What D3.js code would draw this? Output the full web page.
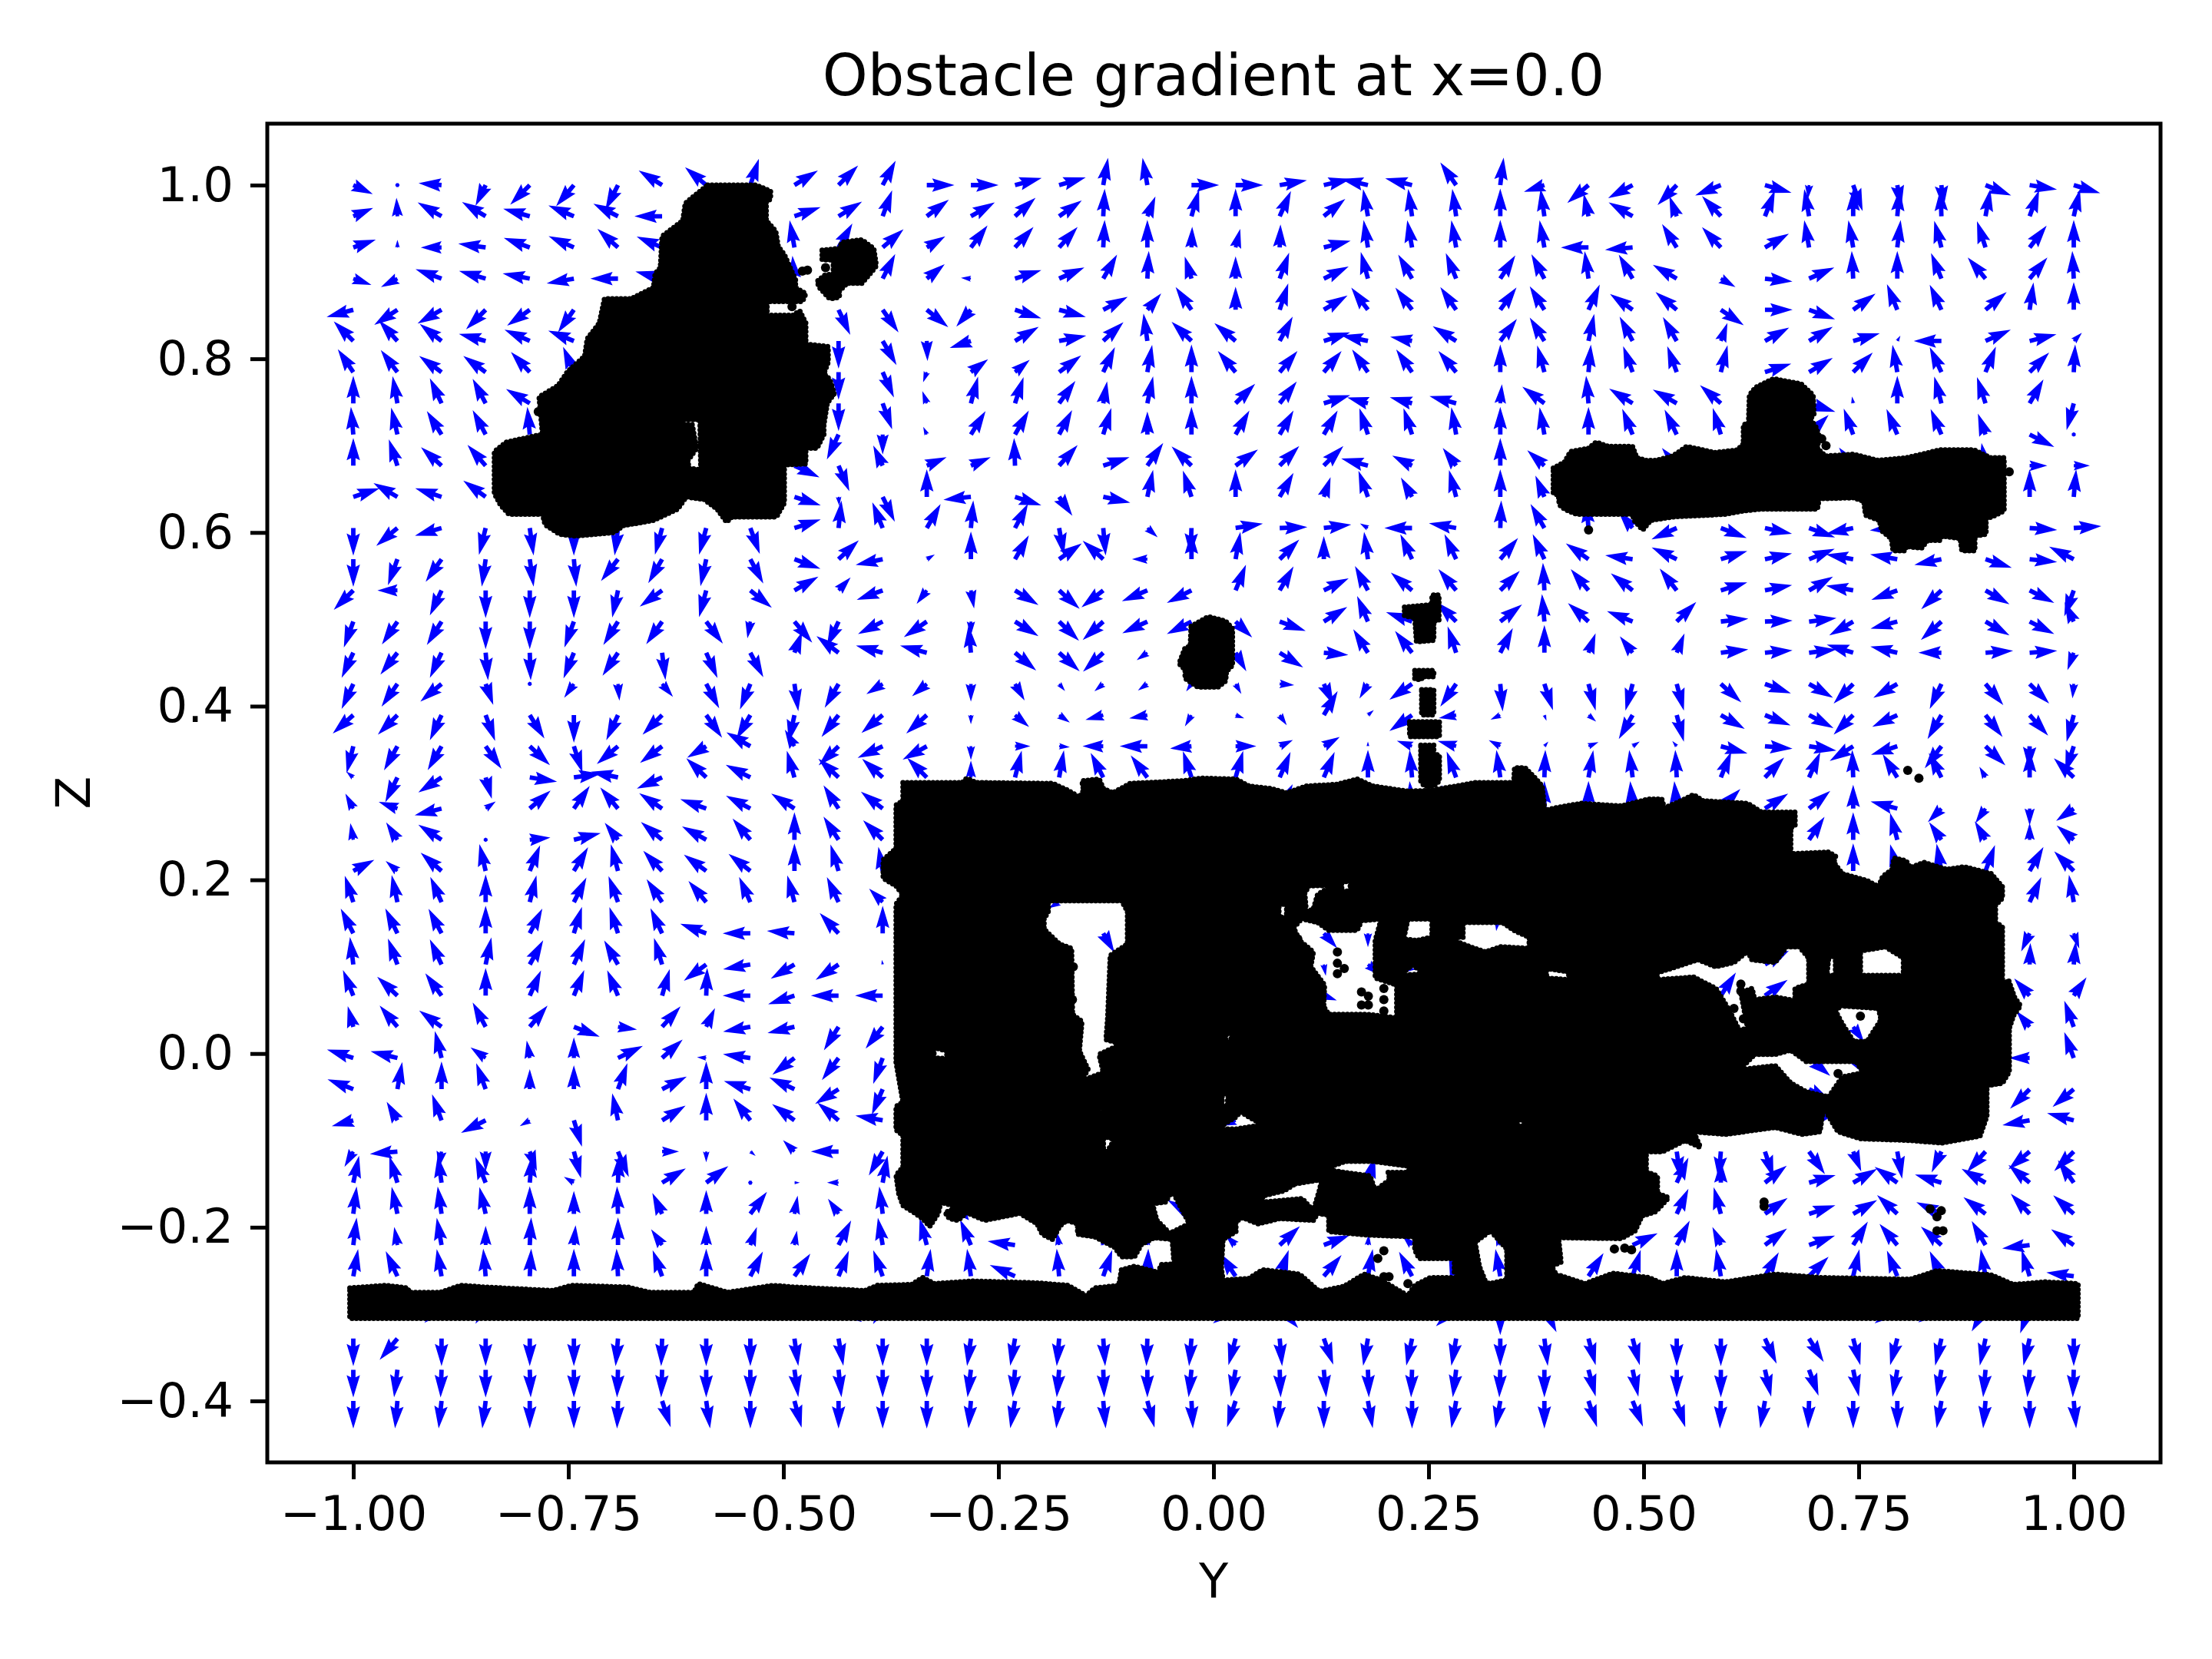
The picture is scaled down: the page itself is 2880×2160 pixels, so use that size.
<!DOCTYPE html>
<html><head><meta charset="utf-8">
<style>html,body{margin:0;padding:0;background:#fff}text{font-family:"DejaVu Sans",sans-serif;fill:#000}</style>
<script src="https://cdn.jsdelivr.net/npm/d3@7"></script></head>
<body><svg id="c" width="2880" height="2160"></svg>
<script>
const _ = null;
const title = "Obstacle gradient at x=0.0", xLabel = "Y", yLabel = "Z";
const yTicks = [-1,-0.75,-0.5,-0.25,0,0.25,0.5,0.75,1];
const zTicks = [-0.4,-0.2,0,0.2,0.4,0.6,0.8,1.0];
// grid: 40 x 40, each entry = direction in degrees, or [direction, magnitude]; plain entries have magnitude 36; null is hidden by the obstacle
const row00=[[-25,28],[0,3],[175,30],[-116,30],-135,-130,-117,148,140,72,32,45,62,0,0,15,16,80,100,0,0,10,13,167,166,125,83,[198,28],220,208,226,202,-16,[-95,18],-70,[-80,30],[-85,30],-22,-9,-17];
const row01=[[23,28],[93,24],150,149,164,157,153,180,_,_,19,32,70,37,30,42,35,87,[68,28],74,90,66,39,100,98,98,90,98,[102,30],150,[110,28],133,69,100,90,85,92,80,70,77];
const row02=[[19,31],[90,10],[180,27],172,160,156,138,157,_,_,100,60,41,[31,28],53,48,48,87,90,[88,27],[76,25],[88,30],14,99,100,100,90,100,180,185,122,133,30,100,100,83,105,108,52,90];
const row03=[[-19,25],[207,24],160,164,169,190,180,165,_,_,[95,30],_,63,[39,30],[175,13],18,24,60,87,[107,30],[90,29],70,26,105,120,112,57,118,98,120,150,[-30,22],-6,24,93,90,112,130,50,93];
const row04=[195,213,210,225,215,235,_,_,_,_,_,-65,-55,-39,[229,29],-18,-15,28,[50,28],125,[90,30],72,31,127,127,125,54,122,66,145,140,-34,0,-20,36,112,115,40,82,90];
const row05=[135,132,142,165,156,158,_,_,_,_,_,-90,-60,[-88,26],[198,29],31,11,43,98,136,140,62,18,168,[169,29],148,53,122,78,118,120,[70,25],29,31,16,[60,8],180,24,14,[45,15]];
const row06=[124,127,144,144,133,113,_,_,_,_,_,-90,-66,[-110,14],[37,28],[40,25],37,65,80,90,130,50,50,125,125,130,90,105,85,110,110,76,18,31,45,100,115,68,45,87];
const row07=[90,100,115,118,149,_,_,_,_,_,_,-90,-70,[110,17],75,72,54,[80,29],78,90,45,52,17,[164,28],[165,30],165,[85,25],143,95,148,150,139,_,-18,[100,9],90,105,108,60,-105];
const row08=[95,103,122,118,95,_,_,_,_,_,_,245,[-90,26],[115,11],58,60,62,73,[90,30],90,60,60,60,108,108,100,90,100,90,112,116,107,_,45,110,113,113,[110,29],-27,[90,5]];
const row09=[90,108,138,131,_,_,_,_,_,_,-25,-67,[115,29],[23,28],[23,28],92,48,18,55,136,36,45,45,165,[153,29],[127,29],90,[138,30],_,_,[130,30],_,_,_,[128,30],_,_,[100,30],[0,23],[0,21]];
const row10=[18,150,162,144,_,_,_,_,_,_,-18,[-85,12],-64,90,186,-18,[-55,30],-12,78,108,90,60,[71,27],110,[120,29],105,90,[113,30],_,_,_,_,_,_,_,_,_,_,90,85];
const row11=[-90,220,196,-104,-82,-90,-97,-105,-105,-70,18,84,112,60,85,62,-80,-85,[-42,18],-92,9,2,7,[150,12],180,170,88,120,95,[130,29],204,-21,-12,-20,192,185,_,_,-4,4];
const row12=[-90,250,235,-98,-82,-85,232,240,-102,-62,-20,43,192,[30,12],90,60,35,138,[180,20],90,80,45,[90,30],98,115,115,50,115,145,172,155,17,12,22,170,170,192,-18,-6,153];
const row13=[225,[180,26],245,-90,-90,-90,-102,216,-105,-39,30,[47,23],200,[233,22],[-80,24],-32,-42,218,203,207,68,60,26,118,140,130,45,93,130,142,128,17,11,30,170,200,223,-30,-27,250];
const row14=[250,236,238,-90,-90,250,238,235,-53,[260,22],-50,245,207,214,[-90,18],-32,-44,222,205,207,[-44,30],-20,32,113,160,135,38,95,138,158,45,6,2,7,210,195,222,-30,-27,[115,28]];
const row15=[245,232,245,-85,-88,248,236,-83,-66,-62,[70,29],143,165,165,95,-40,-42,223,[215,17],_,[-60,28],-32,[-5,32],122,128,108,63,90,[70,27],[128,27],[68,27],7,5,7,163,167,[180,30],4,4,[250,24]];
const row16=[245,235,220,[-70,29],[-80,4],[235,22],[-85,22],[-50,22],-62,248,-82,240,[212,25],[220,25],[-90,23],[-60,25],[-50,12],[220,15],[215,15],[235,12],[-60,15],[-5,19],[-65,30],[240,22],215,235,-85,-72,-75,255,-75,-42,-20,-30,225,210,245,-50,-45,[-95,19]];
const row17=[222,225,245,-70,-58,-90,245,225,-55,240,258,232,220,222,[-90,12],[-40,24],[-35,17],[195,24],[190,24],[240,17],[-20,12],[-55,16],60,[40,10],215,[190,23],[205,14],[-70,8],[-40,13],240,-75,-30,-22,-28,225,205,240,-52,-48,255];
const row18=[256,241,240,-55,-43,-72,220,217,[211,29],150,[120,25],224,205,209,[-90,18],[0,20],[-5,14],[180,27],180,[186,28],[0,27],[25,19],[30,24],[90,6],[160,21],[164,25],[152,17],[50,8],[22,14],[33,11],[130,9],-15,-5,-9,212,198,233,-44,[-92,30],252];
const row19=[[140,12],244,213,[-74,29],-9,8,168,204,136,153,106,137,138,135,[90,22],76,80,117,127,108,74,67,67,90,95,110,98,88,80,97,93,68,46,66,92,122,117,[120,16],90,136];
const row20=[[118,22],[160,26],194,[35,16],41,55,130,146,160,152,147,123,142,_,_,_,[95,34],_,_,_,_,62,68,_,95,122,92,90,90,95,95,45,33,40,[90,31],165,[225,25],[235,23],[-90,22],[215,28]];
const row21=[[100,22],[123,27],147,[90,5],[6,27],14,[128,28],140,151,130,90,123,135,_,_,_,_,_,_,_,_,_,_,_,_,_,_,_,_,_,_,_,_,56,90,105,[125,28],[120,28],[90,22],[140,29]];
const row22=[[28,31],[140,20],139,103,68,59,105,133,144,142,90,107,[100,32],_,_,_,_,_,_,_,_,_,_,_,_,_,_,_,_,_,_,_,_,_,90,105,100,70,60,135];
const row23=[108,102,114,90,76,63,110,124,130,114,105,115,[135,25],_,_,_,[210,16],_,_,_,_,_,_,_,_,_,[262,38],_,_,_,_,_,_,_,_,_,_,_,65,100];
const row24=[117,116,118,90,63,73,108,115,160,180,175,133,90,_,_,_,_,[-60,29],_,_,_,_,[-48,26],[-90,18],_,_,_,_,_,_,_,_,_,_,_,_,_,_,[245,26],[-70,21]];
const row25=[97,110,115,78,61,66,120,107,216,190,211,214,[100,6],_,_,_,_,_,_,_,_,_,[-80,15],[-40,22],[210,26],_,_,_,_,_,_,_,30,25,[60,18],_,_,_,[88,28],[85,30]];
const row26=[112,137,126,90,66,68,113,74,88,180,198,180,180,_,_,_,_,_,_,_,_,_,[-20,18],_,_,_,_,_,_,_,_,57,35,_,_,_,_,_,[132,30],[55,29]];
const row27=[[105,28],130,144,118,50,-21,[-8,25],48,[65,27],190,193,238,232,_,_,_,_,_,_,_,[220,22],_,_,_,_,_,_,_,_,_,_,_,_,_,[-55,25],_,_,_,[130,27],110];
const row28=[162,166,104,[145,24],[100,23],[90,27],26,42,[175,12],172,217,233,250,_,_,_,_,_,_,_,_,_,_,_,_,_,_,_,_,_,_,_,_,-40,[-55,26],_,_,_,[180,27],110];
const row29=[159,80,90,110,[90,26],[90,31],70,27,90,163,155,212,247,_,_,_,_,_,_,_,_,_,_,_,_,_,_,_,_,_,_,_,_,[-28,32],[-70,14],_,_,_,225,220];
const row30=[[195,29],[120,28],110,207,[210,15],-73,102,32,90,128,144,140,170,_,_,_,_,_,_,_,[200,21],_,_,_,_,_,_,_,_,_,_,_,_,13,_,_,_,_,190,165];
const row31=[[240,23],185,[-100,22],[-90,26],[-70,27],-75,-67,[0,22],[-90,14],[-40,9],[135,21],180,240,_,_,_,_,_,_,_,_,_,_,_,_,_,_,_,_,_,-82,-95,-72,-55,[-68,28],-80,[245,30],228,220,225];
const row32=[78,107,98,112,85,[150,15],88,31,37,[0,3],[0,7],[180,15],80,_,_,_,_,_,_,_,_,_,_,75,_,_,_,_,_,[20,30],65,[90,29],38,16,30,145,163,150,140,125];
const row33=[83,102,98,103,90,[90,30],92,[115,30],[90,31],53,[80,24],[125,24],97,_,[170,30],_,_,_,_,150,_,_,_,_,_,_,_,_,_,_,65,105,35,18,30,137,155,143,133,138];
const row34=[83,[100,24],100,[90,25],87,[85,26],90,[125,25],[90,25],[70,25],[80,19],63,100,105,113,172,[100,17],[110,10],[80,12],[130,17],[135,19],43,21,[85,14],[135,18],_,[110,18],_,_,25,62,[115,26],37,20,58,130,138,120,187,145];
const row35=[80,115,100,95,87,90,93,110,90,63,55,68,110,82,98,156,95,71,88,_,124,71,50,80,118,[110,28],100,_,57,73,90,100,60,45,77,112,115,100,107,172];
const row36=[_,_,[222,30],[238,25],_,_,_,_,_,_,_,-32,[240,25],_,_,_,_,_,_,_,215,-48,-27,_,_,223,-90,-64,_,-10,_,_,_,_,_,215,213,240,250,_];
const row37=[-90,230,-90,-90,-90,-90,-95,-92,-90,-90,-82,-80,-90,-90,-98,-100,-95,-86,-92,-95,-105,-85,-70,-100,-102,-100,-90,-83,-75,-75,-90,-90,-65,-58,-75,-105,-103,-102,-103,-90];
const row38=[-90,-97,-92,-90,-88,-90,-92,-92,-90,-90,-82,-84,-90,-90,-97,-95,-95,-88,-90,-96,-100,-88,-85,-88,-92,-97,-92,-90,-75,-78,-90,-90,-77,-70,-78,-100,-100,-95,-95,-92];
const row39=[-90,-95,-96,-97,-90,-90,-92,-72,-82,-90,-75,-90,-90,-90,-95,-100,-96,-85,-75,-87,-108,-95,-90,-80,-90,-100,-100,-90,-72,-68,-72,-92,-100,-92,-90,-90,-100,-95,-90,-85];
const gradRows=[row00,row01,row02,row03,row04,row05,row06,row07,row08,row09,row10,row11,row12,row13,row14,row15,row16,row17,row18,row19,row20,row21,row22,row23,row24,row25,row26,row27,row28,row29,row30,row31,row32,row33,row34,row35,row36,row37,row38,row39];
const defaultMagnitude=36;

// obstacle outlines [Y,Z]
const blobA=[[-.588,1.0],[-.532,1.0],[-.515,.993],[-.515,.984],[-.520,.981],[-.520,.959],[-.509,.947],[-.506,.929],[-.499,.920],[-.486,.891],[-.486,.882],[-.474,.875],[-.478,.866],[-.519,.866],[-.519,.850],[-.489,.850],[-.481,.855],[-.474,.841],[-.474,.817],[-.448,.814],[-.448,.796],[-.453,.783],[-.446,.776],[-.441,.760],[-.449,.749],[-.453,.724],[-.453,.713],[-.461,.697],[-.474,.697],[-.474,.679],[-.499,.678],[-.499,.634],[-.508,.618],[-.560,.618],[-.566,.612],[-.577,.627],[-.592,.638],[-.613,.641],[-.623,.627],[-.651,.614],[-.686,.608],[-.697,.600],[-.742,.596],[-.760,.598],[-.777,.609],[-.780,.621],[-.819,.621],[-.829,.632],[-.836,.645],[-.836,.693],[-.822,.704],[-.780,.713],[-.784,.756],[-.762,.769],[-.751,.785],[-.731,.803],[-.728,.823],[-.714,.841],[-.708,.869],[-.677,.869],[-.651,.882],[-.649,.898],[-.643,.905],[-.641,.941],[-.617,.959],[-.614,.979],[-.603,.988]];
const holeA=[[-.620,.730],[-.597,.730],[-.596,.672],[-.610,.674],[-.611,.683],[-.601,.697],[-.606,.724],[-.620,.725]];
const blobB=[[-.455,.925],[-.435,.927],[-.432,.934],[-.409,.937],[-.395,.927],[-.392,.907],[-.401,.896],[-.409,.887],[-.426,.887],[-.435,.878],[-.435,.871],[-.446,.869],[-.458,.882],[-.461,.889],[-.452,.896],[-.442,.898],[-.442,.914],[-.455,.914]];
const blobC=[[.395,.674],[.408,.681],[.415,.693],[.436,.697],[.445,.704],[.459,.699],[.487,.699],[.492,.686],[.503,.683],[.515,.683],[.534,.688],[.550,.699],[.583,.692],[.609,.695],[.616,.702],[.616,.724],[.622,.726],[.623,.758],[.630,.767],[.651,.777],[.683,.771],[.697,.758],[.698,.735],[.693,.731],[.700,.722],[.704,.711],[.702,.697],[.711,.688],[.744,.690],[.772,.683],[.805,.686],[.823,.690],[.844,.695],[.884,.695],[.903,.686],[.919,.686],[.919,.674],[.919,.663],[.919,.625],[.905,.618],[.898,.616],[.898,.598],[.885,.596],[.885,.579],[.870,.579],[.868,.593],[.847,.596],[.844,.591],[.830,.591],[.823,.582],[.805,.584],[.804,.579],[.790,.579],[.788,.593],[.777,.602],[.774,.614],[.758,.620],[.756,.636],[.744,.640],[.704,.639],[.702,.627],[.637,.627],[.616,.625],[.595,.621],[.534,.618],[.508,.614],[.499,.603],[.489,.614],[.487,.621],[.422,.621],[.408,.627],[.402,.632],[.401,.643],[.395,.645]];
const blobD=[[-.026,.492],[-.006,.503],[.014,.498],[.022,.489],[.022,.447],[.015,.440],[.014,.429],[.005,.422],[-.018,.422],[-.033,.432],[-.033,.442],[-.040,.449],[-.033,.467],[-.027,.469]];
const blobE=[[.222,.514],[.254,.517],[.254,.528],[.262,.528],[.262,.499],[.256,.498],[.256,.476],[.236,.474],[.234,.502],[.222,.504]];
const blobE2=[[.234,.441],[.256,.441],[.256,.434],[.242,.434],[.242,.431],[.234,.431]];
const blobE3=[[.242,.419],[.256,.419],[.256,.390],[.242,.390]];
const blobE4=[[.228,.382],[.2625,.382],[.2625,.365],[.228,.365]];
const blobE5=[[.241,.355],[.256,.355],[.256,.344],[.2625,.344],[.2625,.314],[.256,.308],[.245,.308],[.241,.314]];
const blobFloor=[[-1.004,-.270],[-.962,-.267],[-.937,-.270],[-.935,-.275],[-.899,-.275],[-.875,-.267],[-.846,-.269],[-.768,-.273],[-.746,-.267],[-.681,-.269],[-.655,-.275],[-.604,-.275],[-.599,-.265],[-.565,-.275],[-.512,-.267],[-.487,-.269],[-.405,-.273],[-.391,-.267],[-.351,-.266],[-.338,-.258],[-.325,-.265],[-.281,-.262],[-.207,-.264],[-.169,-.267],[-.148,-.279],[-.138,-.270],[-.110,-.267],[-.107,-.249],[-.092,-.245],[-.064,-.252],[-.061,-.243],[.008,-.240],[.011,-.261],[.041,-.259],[.057,-.249],[.100,-.254],[.123,-.274],[.152,-.268],[.175,-.254],[.195,-.261],[.226,-.279],[.234,-.267],[.252,-.258],[.305,-.258],[.321,-.265],[.339,-.261],[.401,-.255],[.432,-.265],[.464,-.253],[.506,-.258],[.522,-.265],[.548,-.258],[.595,-.263],[.653,-.254],[.705,-.258],[.810,-.260],[.841,-.250],[.904,-.255],[.930,-.266],[.967,-.263],[1.005,-.265],[1.005,-.305],[-1.004,-.305]];
const blobMain=[[-.361,.312],[-.292,.312],[-.287,.317],[-.276,.312],[-.187,.311],[-.169,.303],[-.156,.295],[-.151,.303],[-.153,.314],[-.133,.316],[-.128,.305],[-.117,.300],[-.097,.311],[-.035,.314],[-.015,.317],[.026,.316],[.041,.308],[.067,.305],[.085,.300],[.108,.308],[.144,.310],[.167,.316],[.185,.308],[.226,.302],[.252,.303],[.282,.308],[.305,.312],[.349,.312],[.350,.329],[.362,.329],[.375,.316],[.382,.308],[.385,.280],[.398,.283],[.427,.288],[.474,.285],[.506,.293],[.521,.293],[.524,.283],[.537,.288],[.558,.298],[.569,.291],[.621,.288],[.637,.278],[.676,.278],[.676,.263],[.671,.260],[.671,.230],[.715,.232],[.723,.227],[.721,.220],[.731,.207],[.760,.199],[.773,.192],[.778,.204],[.789,.212],[.791,.225],[.805,.222],[.810,.214],[.826,.220],[.852,.212],[.873,.215],[.904,.207],[.917,.192],[.917,.179],[.909,.171],[.909,.151],[.917,.146],[.917,.075],[.924,.085],[.931,.065],[.938,.055],[.930,.044],[.925,.029],[.925,-.021],[.917,-.034],[.899,-.037],[.899,-.072],[.891,-.095],[.847,-.103],[.810,-.100],[.752,-.098],[.726,-.090],[.715,-.072],[.709,-.062],[.705,-.090],[.684,-.093],[.653,-.085],[.595,-.093],[.558,-.090],[.566,-.108],[.548,-.100],[.522,-.113],[.503,-.113],[.503,-.136],[.516,-.141],[.516,-.161],[.529,-.166],[.514,-.182],[.498,-.187],[.490,-.204],[.474,-.213],[.401,-.212],[.404,-.240],[.393,-.245],[.404,-.265],[.341,-.265],[.341,-.225],[.322,-.204],[.304,-.217],[.309,-.245],[.317,-.265],[.303,-.264],[.280,-.252],[.280,-.236],[.239,-.236],[.234,-.226],[.234,-.211],[.180,-.209],[.134,-.205],[.134,-.186],[.121,-.184],[.116,-.192],[.077,-.190],[.052,-.196],[.034,-.189],[.026,-.193],[.026,-.205],[.011,-.214],[.008,-.261],[-.006,-.261],[-.006,-.240],[-.046,-.240],[-.048,-.214],[-.069,-.212],[-.084,-.220],[-.092,-.234],[-.107,-.234],[-.115,-.223],[-.138,-.211],[-.158,-.208],[-.158,-.196],[-.171,-.192],[-.179,-.199],[-.187,-.214],[-.199,-.208],[-.205,-.196],[-.225,-.184],[-.266,-.192],[-.287,-.183],[-.297,-.192],[-.307,-.190],[-.312,-.183],[-.297,-.177],[-.317,-.171],[-.320,-.184],[-.330,-.199],[-.338,-.190],[-.348,-.183],[-.361,-.175],[-.366,-.161],[-.369,-.140],[-.361,-.131],[-.361,-.094],[-.369,-.088],[-.369,-.061],[-.361,-.056],[-.369,-.010],[-.369,.172],[-.361,.183],[-.369,.193],[-.384,.202],[-.384,.223],[-.376,.230],[-.369,.236],[-.369,.286],[-.361,.291]];
const holeW1=[[.516,.093],[.563,.108],[.584,.100],[.605,.105],[.621,.118],[.626,.108],[.653,.105],[.666,.123],[.681,.123],[.692,.110],[.692,.080],[.676,.075],[.676,.061],[.653,.065],[.629,.062],[.626,.075],[.613,.070],[.621,.029],[.611,.027],[.600,.049],[.584,.075],[.558,.088],[.516,.085]];
const holeW2=[[.715,.110],[.723,.113],[.723,.090],[.713,.090]];
const holeW2b=[[.752,.118],[.781,.123],[.802,.110],[.802,.090],[.752,.090]];
const holeW3=[[.729,.055],[.773,.052],[.776,.039],[.760,.014],[.744,.014],[.731,.034],[.723,.049]];
const holeW4=[[.629,-.001],[.653,-.001],[.671,.004],[.689,-.009],[.747,-.009],[.755,-.022],[.731,-.027],[.715,-.050],[.689,-.044],[.671,-.034],[.653,-.014],[.626,-.017],[.611,-.019]];
const holeH1=[[-.192,.176],[-.107,.176],[-.100,.164],[-.100,.126],[-.120,.113],[-.123,.041],[-.125,.016],[-.107,.011],[-.133,-.001],[-.128,-.022],[-.153,-.031],[-.146,-.018],[-.156,.003],[-.153,.037],[-.164,.045],[-.165,.121],[-.179,.126],[-.197,.143],[-.197,.155],[-.192,.164]];
const holeH2=[[-.325,.007],[-.310,.003],[-.310,-.006],[-.325,-.005]];
const holeH3=[[.111,.193],[.139,.194],[.121,.183],[.116,.166],[.100,.161],[.103,.155],[.121,.151],[.134,.142],[.167,.142],[.172,.153],[.195,.155],[.188,.130],[.188,.087],[.213,.079],[.213,.041],[.180,.045],[.134,.045],[.128,.054],[.129,.079],[.113,.100],[.116,.117],[.100,.130],[.093,.145],[.108,.161],[.106,.185]];
const holeH3b=[[.076,.172],[.085,.172],[.085,.157],[.076,.157]];
const holeH3c=[[.149,.198],[.159,.198],[.159,.187],[.149,.187]];
const holeH4=[[.226,.155],[.254,.155],[.254,.134],[.236,.130],[.221,.132]];
const holeH5=[[.270,.134],[.290,.134],[.290,.151],[.336,.151],[.349,.142],[.367,.134],[.367,.121],[.334,.123],[.316,.117],[.298,.123]];
const holeH6=[[.216,.090],[.231,.102],[.246,.092]];
const holeH7=[[.387,.098],[.413,.094],[.413,.085],[.387,.087]];
const holeH8=[[.008,-.084],[.026,-.073],[.031,-.067],[.057,-.082],[.026,-.087],[.008,-.087]];
const holeH8b=[[.010,-.046],[.017,-.046],[.016,-.061],[.010,-.061]];
const holeH8c=[[.010,.020],[.025,.025],[.018,.013]];
const holeH9=[[.136,-.130],[.154,-.124],[.185,-.124],[.229,-.130],[.226,-.137],[.203,-.137],[.205,-.145],[.188,-.158],[.182,-.141],[.139,-.135]];
const holeH10=[[-.071,-.173],[-.056,-.171],[-.048,-.158],[-.028,-.196],[-.051,-.207],[-.066,-.192]];
const holeH11=[[.095,-.150],[.126,-.145],[.123,-.158],[.116,-.181],[.103,-.167],[.057,-.171],[.057,-.164],[.082,-.158]];
const holeH12=[[.016,-.158],[.034,-.158],[.034,-.162],[.016,-.162]];
const holeH13=[[.344,-.082],[.357,-.076],[.367,-.084]];
const holeH14=[[-.138,-.063],[-.128,-.063],[-.128,-.070]];
const holeH15=[[-.128,-.095],[-.115,-.099],[-.128,-.120]];
const mainHoles=[holeW1,holeW2,holeW2b,holeW3,holeW4,holeH1,holeH2,holeH3,holeH3b,holeH3c,holeH4,holeH5,holeH6,holeH7,holeH8,holeH8b,holeH8c,holeH9,holeH10,holeH11,holeH12,holeH13,holeH14,holeH15];
const obstacleBlobs=[[blobA,holeA],[blobB],[blobC],[blobD],[blobE],[blobE2],[blobE3],[blobE4],[blobE5],[blobFloor],[blobMain,...mainHoles]];
const looseY=[-.451,-.490,-.472,-.478,-.481,-.444,-.785,.436,.707,.712,.925,.198,.191,.198,.204,.226,.466,.478,.486,.466,.640,.640,.833,.846,.841,.841,.848,.807,.820,.752,.726,.613,.613,.605,.616,.144,.144,.144,.152,.172,.180,.172,.180,.198,.198,.198,.098,.090,-.163,-.164];
const looseZ=[.905,.860,.902,.901,.873,.760,.739,.603,.708,.700,.670,-.227,-.236,-.257,-.257,-.265,-.225,-.224,-.226,-.210,-.171,-.176,-.179,-.181,-.188,-.204,-.204,.326,.317,.043,-.023,.080,.072,.052,.040,.117,.104,.092,.098,.071,.066,.056,.056,.075,.062,.049,.132,.147,.100,.062];

const svg=d3.select("#c");
const L=348,R=2813,T=161,B=1904;
const x=d3.scaleLinear().domain([-1,1]).range([460,2700]);
const y=d3.scaleLinear().domain([-0.4,1]).range([1824,241]);
const gridY=d3.range(40).map(i=>-1+i*2/39), gridZ=d3.range(40).map(j=>1-j*1.4/39);
const magScale=d3.scaleLinear().domain([0,40]).range([0,40]);
const W=5.8;
function arrowPoly(len){
  if(len<W){const r=W/2;return d3.range(6).map(k=>[r*Math.cos(k*Math.PI/3)+0,r*Math.sin(k*Math.PI/3)]);}
  const s=len<5*W?len/(5*W):1,l=len/s;
  return [[0,.5*W],[l-4.5*W,.5*W],[l-5*W,1.5*W],[l,0],[l-5*W,-1.5*W],[l-4.5*W,-.5*W],[0,-.5*W]].map(p=>[p[0]*s,p[1]*s]);
}
const arrows=[];
gradRows.forEach((row,j)=>row.forEach((e,i)=>{
  if(e===null)return;
  const a=Array.isArray(e)?e[0]:e, m=Array.isArray(e)?e[1]:defaultMagnitude;
  arrows.push({Y:gridY[i],Z:gridZ[j],a,m});
}));
const plot=svg.append("g");
plot.append("g").selectAll("path").data(arrows).join("path")
  .attr("transform",d=>`translate(${x(d.Y)},${y(d.Z)}) rotate(${-d.a})`)
  .attr("d",d=>"M"+arrowPoly(magScale(d.m)).join("L")+"Z")
  .attr("fill","#0000ff");
const lineGen=d3.line().x(d=>x(d[0])).y(d=>y(d[1]));
const ob=plot.append("g");
ob.selectAll("path").data(obstacleBlobs).join("path")
  .attr("d",d=>d.map(r=>lineGen(r)+"Z").join(""))
  .attr("fill","#000").attr("fill-rule","evenodd")
  .attr("stroke","#000").attr("stroke-width",7).attr("stroke-linecap","round").attr("stroke-dasharray","0 5.6");
ob.selectAll("circle").data(d3.range(looseY.length)).join("circle")
  .attr("cx",i=>x(looseY[i])).attr("cy",i=>y(looseZ[i])).attr("r",6).attr("fill","#000");
// frame and axes
svg.append("rect").attr("x",L).attr("y",T).attr("width",R-L).attr("height",B-T).attr("fill","none").attr("stroke","#000").attr("stroke-width",5);
const gx=svg.append("g").attr("transform",`translate(0,${B})`).call(d3.axisBottom(x).tickValues(yTicks).tickFormat(d3.format(".2f")).tickSize(22).tickPadding(22));
const gy=svg.append("g").attr("transform",`translate(${L},0)`).call(d3.axisLeft(y).tickValues(zTicks).tickFormat(d3.format(".1f")).tickSize(22).tickPadding(22));
[gx,gy].forEach(g=>{g.select(".domain").remove();g.selectAll("line").attr("stroke","#000").attr("stroke-width",5);
  g.selectAll("text").attr("font-size",62.5).attr("font-family",'"DejaVu Sans"').attr("fill","#000");});
svg.append("text").attr("x",1580).attr("y",124).attr("text-anchor","middle").attr("font-size",75).text(title);
svg.append("text").attr("x",1580).attr("y",2080).attr("text-anchor","middle").attr("font-size",62.5).text(xLabel);
svg.append("text").attr("transform","translate(117,1032) rotate(-90)").attr("text-anchor","middle").attr("font-size",62.5).text(yLabel);
</script></body></html>
